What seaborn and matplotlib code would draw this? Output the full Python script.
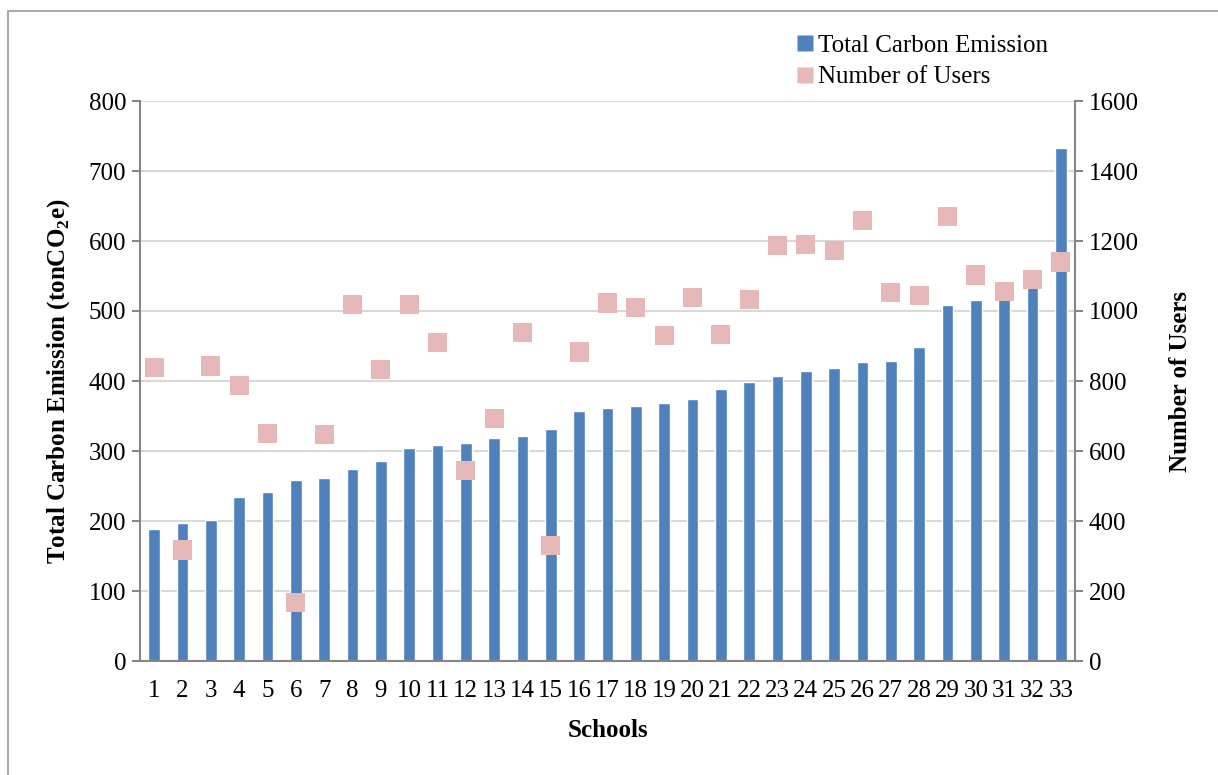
import numpy as np
import pandas as pd
import matplotlib
matplotlib.use("Agg")
import matplotlib.pyplot as plt
from matplotlib.lines import Line2D
from matplotlib.patches import Rectangle
import seaborn as sns

schools = [str(i) for i in range(1, 34)]
carbon_emission = [189, 197, 202, 234, 242, 258, 261, 275, 286, 304, 308, 311,
                   319, 321, 332, 357, 361, 364, 369, 375, 388, 399, 407, 415,
                   418, 427, 428, 449, 508, 516, 521, 537, 733]
number_of_users = [839, 317, 843, 788, 650, 166, 647, 1019, 833, 1019, 910, 545,
                   693, 938, 330, 883, 1023, 1009, 929, 1038, 932, 1032, 1188, 1190,
                   1173, 1258, 1052, 1044, 1270, 1103, 1056, 1090, 1140]
left_ticks = [0, 100, 200, 300, 400, 500, 600, 700, 800]
right_ticks = [0, 200, 400, 600, 800, 1000, 1200, 1400, 1600]

bar_color = "#4F81BD"
marker_color = "#E6B9B8"
axis_gray = "#868686"
grid_gray = "#D9D9D9"

sns.set_theme(style="white")
plt.rcParams["font.family"] = ["Liberation Serif", "DejaVu Serif"]
plt.rcParams["mathtext.fontset"] = "custom"
plt.rcParams["mathtext.rm"] = "Liberation Serif"
plt.rcParams["mathtext.bf"] = "Liberation Serif:bold"
plt.rcParams["text.color"] = "black"
plt.rcParams["axes.labelcolor"] = "black"
plt.rcParams["xtick.color"] = "black"
plt.rcParams["ytick.color"] = "black"

df = pd.DataFrame({"school": schools, "emission": carbon_emission,
                   "users": number_of_users})
df["pos"] = np.arange(len(df))

fig = plt.figure(figsize=(12.18, 7.75), dpi=100)
fig.patches.append(Rectangle((8 / 1218, -0.1), 1.2, 1 - 11 / 775 + 0.1,
                             transform=fig.transFigure, fill=False,
                             edgecolor="#9a9a9a", linewidth=1.2, zorder=0))

ax = fig.add_axes([140 / 1218, 1 - 661 / 775, (1075 - 140) / 1218, 560 / 775])
sns.barplot(data=df, x="school", y="emission", color=bar_color, width=0.42,
            saturation=1, ax=ax, zorder=2)
ax.set_ylim(0, 800)
ax.set_xlim(-0.5, 32.5)
ax.set_yticks(left_ticks)
ax.yaxis.grid(True, color=grid_gray, linewidth=1.5, zorder=0)
ax.set_axisbelow(True)
for side in ["top", "right"]:
    ax.spines[side].set_visible(False)
for side in ["left", "bottom"]:
    ax.spines[side].set_color(axis_gray)
    ax.spines[side].set_linewidth(1.5)
ax.tick_params(axis="y", which="both", left=True, length=6, width=1.5,
               color=axis_gray, labelsize=18, pad=4, labelcolor="black")
ax.tick_params(axis="x", length=0, labelsize=18, pad=14, labelcolor="black")
ax.set_xlabel("Schools", fontsize=18, fontweight="bold", labelpad=12,
              color="black")
ax.set_ylabel(r"Total Carbon Emission (tonCO$_\mathbf{2}$e)", fontsize=18,
              fontweight="bold", labelpad=12, color="black")

ax2 = ax.twinx()
sns.scatterplot(data=df, x="pos", y="users", marker="s", s=190,
                color=marker_color, edgecolor="none", ax=ax2, zorder=3)
ax2.set_ylim(0, 1600)
ax2.set_xlim(-0.5, 32.5)
ax2.set_yticks(right_ticks)
ax2.grid(False)
for side in ["top", "left", "bottom"]:
    ax2.spines[side].set_visible(False)
ax2.spines["right"].set_color(axis_gray)
ax2.spines["right"].set_linewidth(1.5)
ax2.tick_params(axis="y", right=True, length=6, width=1.5, color=axis_gray,
                labelsize=18, pad=4, labelcolor="black")
ax2.set_ylabel("Number of Users", fontsize=18, fontweight="bold", labelpad=22,
               color="black")

handles = [
    Line2D([], [], marker="s", linestyle="none", markersize=12,
           markerfacecolor=bar_color, markeredgecolor="none"),
    Line2D([], [], marker="s", linestyle="none", markersize=12,
           markerfacecolor=marker_color, markeredgecolor="none"),
]
fig.legend(handles, ["Total Carbon Emission", "Number of Users"],
           loc="upper left", bbox_to_anchor=(785 / 1218, 1 - 22 / 775),
           frameon=False, fontsize=18, handlelength=0.6, handletextpad=0.2,
           labelspacing=0.35, borderpad=0)

fig.savefig("out.png", dpi=100)
